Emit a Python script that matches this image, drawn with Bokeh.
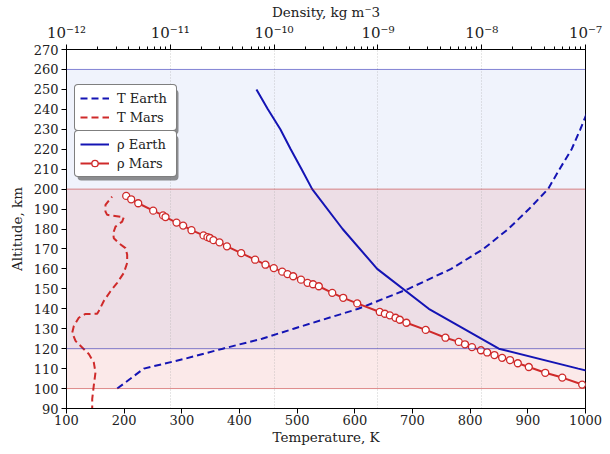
from bokeh.plotting import figure
from bokeh.models import (Range1d, LogScale, LogAxis, Grid, FixedTicker, BoxAnnotation,
                          Span, Legend, LegendItem, CustomJSTickFormatter)
from bokeh.embed import file_html
from bokeh.resources import INLINE

# ---------------- data ----------------
# Earth temperature profile (K) vs altitude (km)
alt_T_earth = [100, 110, 115, 120, 125, 130, 140, 150, 160, 170, 180, 190, 200, 210, 220, 230, 240, 250, 260]
T_earth = [188, 234, 306, 371, 439, 494, 606, 693, 767, 823, 866, 902, 935, 955, 976, 991, 1005, 1018, 1030]

# Mars temperature profile (K) vs altitude (km)
alt_T_mars = [88, 90.7, 94.8, 101.5, 108.1, 113.1, 117.3, 120.6, 123.9, 128.0, 131.4, 135.5, 137.4,
              137.5, 138.9, 143.9, 148.8, 153.0, 158.0, 163.0, 167.1, 170.4, 172.9, 175.4, 177.9,
              181.2, 183.7, 185.9, 187.1, 188.7, 192.1, 196.2]
T_mars = [144, 144.6, 144.6, 147.3, 150.3, 147.3, 138.7, 127.2, 115.6, 109.9, 112.7, 121.3, 132.9,
          153.2, 156.0, 164.7, 176.3, 187.9, 199.4, 205.2, 205.2, 202.3, 190.7, 182.0, 181.0,
          185.0, 196.5, 199.4, 170.5, 167.6, 167.6, 179.0]

# Earth density, log10(kg m^-3) vs altitude (km)
alt_rho_earth = [100, 110, 120, 140, 160, 180, 200, 210, 220, 230, 240, 250]
log_rho_earth = [-6.30, -7.07, -7.835, -8.51, -9.007, -9.34, -9.633, -9.735, -9.84, -9.94, -10.06, -10.17]

# Mars density, log10(kg m^-3) vs altitude (km)
alt_rho_mars = [196.6, 194.9, 192.9, 189.2, 186.8, 186.0, 183.2, 181.7, 179.4, 176.8, 175.9, 175.5,
                174.4, 173.3, 171.3, 167.9, 164.6, 162.1, 160.4, 158.6, 157.4, 156.3, 154.6, 153.0,
                152.3, 151.3, 148.0, 145.5, 142.7, 138.4, 137.5, 136.7, 135.5, 134.5, 133.0, 129.4,
                125.5, 123.4, 122.2, 120.8, 119.2, 118.1, 116.8, 115.4, 114.3, 112.7, 110.8, 107.9,
                105.5, 102.0]
log_rho_mars = [-11.425, -11.377, -11.309, -11.165, -11.070, -11.046, -10.940, -10.876, -10.796, -10.680,
                -10.642, -10.618, -10.584, -10.526, -10.454, -10.317, -10.183, -10.083, -10.003, -9.922,
                -9.871, -9.816, -9.741, -9.678, -9.625, -9.569, -9.440, -9.334, -9.199, -8.982,
                -8.933, -8.885, -8.830, -8.789, -8.725, -8.539, -8.349, -8.221, -8.161, -8.094,
                -8.007, -7.947, -7.877, -7.803, -7.727, -7.652, -7.546, -7.388, -7.224, -7.032]

earth_band = (120, 260)
mars_band = (100, 200)

alt_ticks = list(range(90, 271, 10))
T_ticks = list(range(100, 1001, 100))
rho_decades = [-12, -11, -10, -9, -8, -7]

rho_earth = [10 ** v for v in log_rho_earth]
rho_mars = [10 ** v for v in log_rho_mars]

# ---------------- style ----------------
BLUE = "#1414b4"
RED = "#cf2a2a"
FONT = "DejaVu Serif"

p = figure(width=610, height=454, x_range=(100, 1000), y_range=(90, 270),
           output_backend="svg", toolbar_location=None,
           min_border_left=66, min_border_right=25, min_border_top=47, min_border_bottom=46)
p.extra_x_ranges = {"rho": Range1d(10.0 ** rho_decades[0], 10.0 ** rho_decades[-1])}
p.extra_x_scales = {"rho": LogScale()}

p.xgrid.visible = False
p.ygrid.visible = False
p.outline_line_color = "black"
p.outline_line_width = 1
p.background_fill_color = "white"

# bands
p.add_layout(BoxAnnotation(bottom=earth_band[0], top=earth_band[1], fill_color="#2a5ad8",
                           fill_alpha=0.07, line_alpha=0, level="underlay"))
p.add_layout(BoxAnnotation(bottom=mars_band[0], top=mars_band[1], fill_color="#d62728",
                           fill_alpha=0.10, line_alpha=0, level="underlay"))

# grid from density axis
minor = [k * 10.0 ** e for e in rho_decades[:-1] for k in range(2, 10)]
rho_ticker = FixedTicker(ticks=[10.0 ** e for e in rho_decades], minor_ticks=minor)
p.add_layout(Grid(dimension=0, ticker=rho_ticker, x_range_name="rho",
                  grid_line_color="#aaaaaa", grid_line_alpha=0.6, grid_line_dash="1 2",
                  grid_line_width=1, level="underlay"))

for v in earth_band:
    p.add_layout(Span(location=v, dimension="width", line_color="#2020b0", line_alpha=0.55, line_width=1))
for v in mars_band:
    p.add_layout(Span(location=v, dimension="width", line_color="#c02020", line_alpha=0.5, line_width=1))

# curves
r_te = p.line(T_earth, alt_T_earth, line_color=BLUE, line_width=2, line_dash="7 4")
r_tm = p.line(T_mars, alt_T_mars, line_color=RED, line_width=2, line_dash="7 4")
r_re = p.line(rho_earth, alt_rho_earth, line_color=BLUE, line_width=2, x_range_name="rho")
r_rm = p.line(rho_mars, alt_rho_mars, line_color=RED, line_width=2, x_range_name="rho")
r_rmc = p.scatter(rho_mars, alt_rho_mars, marker="circle", size=7, line_color=RED, line_width=1.3,
                  fill_color="white", x_range_name="rho")

# axes
bottom_axis = p.below[0]
left_axis = p.left[0]

top_axis = LogAxis(x_range_name="rho", axis_label="Density, kg m\u207b3", ticker=rho_ticker)
top_axis.formatter = CustomJSTickFormatter(code="""
const sup = {"-":"\u207b","0":"\u2070","1":"\u00b9","2":"\u00b2","3":"\u00b3","4":"\u2074",
             "5":"\u2075","6":"\u2076","7":"\u2077","8":"\u2078","9":"\u2079"};
const e = Math.round(Math.log10(tick));
return "10" + String(e).split("").map(c => sup[c]).join("");
""")
p.add_layout(top_axis, "above")

bottom_axis.ticker = FixedTicker(ticks=T_ticks)
left_axis.ticker = FixedTicker(ticks=alt_ticks)
bottom_axis.axis_label = "Temperature, K"
left_axis.axis_label = "Altitude, km"

for ax in (bottom_axis, left_axis, top_axis):
    ax.axis_label_text_font = FONT
    ax.axis_label_text_font_size = "13.5px"
    ax.axis_label_text_font_style = "normal"
    ax.axis_label_text_color = "#222222"
    ax.major_label_text_font = FONT
    ax.major_label_text_font_size = "13px"
    ax.major_label_text_color = "#222222"
    ax.axis_line_color = "black"
    ax.major_tick_line_color = "black"
    ax.major_tick_in = 0
    ax.major_tick_out = 5
    ax.minor_tick_line_color = None
    ax.axis_label_standoff = 3
    ax.major_label_standoff = 3

bottom_axis.major_label_standoff = 1
bottom_axis.axis_label_standoff = 1
left_axis.axis_label_standoff = 6

top_axis.minor_tick_line_color = "black"
top_axis.minor_tick_in = 0
top_axis.minor_tick_out = 3
top_axis.axis_label_standoff = 1
top_axis.major_label_standoff = 3
top_axis.major_label_text_font_size = "15px"

# legends
def style_legend(lg):
    lg.label_text_font = FONT
    lg.label_text_font_size = "13px"
    lg.label_text_color = "#222222"
    lg.border_line_color = "black"
    lg.border_line_width = 1.5
    lg.background_fill_color = "white"
    lg.background_fill_alpha = 1
    lg.glyph_width = 29
    lg.glyph_height = 16
    lg.label_height = 16
    lg.label_width = 54
    lg.label_standoff = 8
    lg.padding = 5
    lg.spacing = 3
    lg.margin = 0
    if "border_radius" in Legend.properties():
        lg.border_radius = 4

leg1_pos = (8, 277)
leg2_pos = (8, 231)
leg_w, leg_h = 101, 45

for (lx, ly) in (leg1_pos, leg2_pos):
    p.add_layout(BoxAnnotation(left=lx + 3, right=lx + 3 + leg_w, bottom=ly - 3, top=ly - 3 + leg_h,
                               left_units="screen", right_units="screen",
                               bottom_units="screen", top_units="screen",
                               fill_color="#555555", fill_alpha=0.65, line_alpha=0,
                               border_radius=4))

leg1 = Legend(items=[LegendItem(label="T Earth", renderers=[r_te]),
                     LegendItem(label="T Mars", renderers=[r_tm])], location=leg1_pos)
leg2 = Legend(items=[LegendItem(label="\u03c1 Earth", renderers=[r_re]),
                     LegendItem(label="\u03c1 Mars", renderers=[r_rm, r_rmc])], location=leg2_pos)
style_legend(leg1)
style_legend(leg2)
p.add_layout(leg1, "center")
p.add_layout(leg2, "center")

open("out.html", "w").write(file_html(p, INLINE))
